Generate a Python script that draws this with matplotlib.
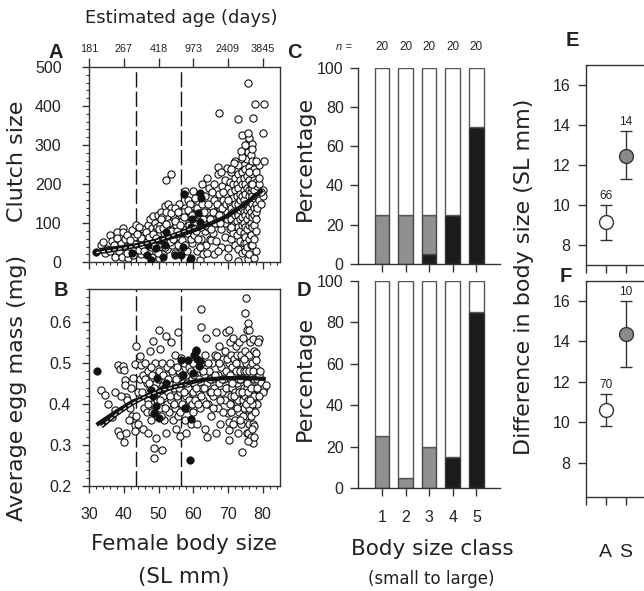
import matplotlib
matplotlib.use("Agg")
import matplotlib.pyplot as plt
import numpy as np

plt.rcParams['font.family'] = ['Liberation Sans', 'DejaVu Sans']
TXT = '#222222'
SP = '#333333'
LABFONT = ['DejaVu Sans']

# ---------------- data ----------------
age_ticks_sl = [30, 40, 50, 60, 70, 80]
age_labels = ['181', '267', '418', '973', '2409', '3845']
cut_lines = [43.5, 56.5]

clutch_open = [
    (33.5,44),(34.5,23),(35,35),(35.9,70),(36.5,55),(37.4,14),(37.9,78),(38.5,30),(39,50),(39.8,89),
    (39.8,78),(39.5,14),(40.5,40),(40.2,60),(38,62),(36,28),(34,52),(37,45),
    (41.2,12),(41.5,30),(42.2,83),(42,50),(43,65),(43.6,95),(43.5,25),(44,40),(44.5,75),(45,55),
    (45.5,85),(45,20),(46,35),(46.5,60),(46.8,95),(47,75),(47.5,110),(47.5,45),(48,15),(48,88),
    (48.5,118),(48.6,65),(49,30),(49,100),(49.3,82),(49.5,55),(49.8,120),(50,70),(50,40),(50,10),
    (41,70),(42.8,35),(44.2,90),(45.8,70),(46.2,45),(47.2,30),(48.2,50),(49.6,90),(44.8,62),(43.2,48),
    (50.5,95),(50.8,130),(51,60),(51.2,20),(51.5,105),(51.8,145),(52,80),(52.2,210),(52.3,35),(52.5,115),
    (52.8,150),(53,65),(53.3,90),(53.5,227),(53.5,140),(53.8,45),(54,120),(54.2,100),(54.5,75),(54.8,25),
    (55,135),(55.2,60),(55.5,110),(55.8,90),(56,150),(56.2,40),(56.5,120),(56.8,75),(57,100),(57.2,55),
    (57.5,182),(57.5,140),(57.8,85),(58,115),(58.3,30),(58.5,160),(58.8,70),(59,130),(59.2,105),(59.5,50),
    (59.9,183),(59.8,90),(60,145),(51,115),(52,130),(53,100),(54,85),(55,95),(56,65),(57,130),
    (58,100),(59,150),(60,120),(50.6,50),(51.6,75),(52.6,55),(53.6,125),(54.6,140),(55.6,45),(56.6,105),
    (57.6,60),(58.6,135),(59.6,75),
    (40.8,25),(41.8,58),(42.5,18),(43.8,72),(44.3,32),(45.2,45),(45.7,28),(46.3,78),(46.7,52),(47.3,64),
    (47.8,38),(48.3,72),(48.8,42),(49.2,62),(49.7,25),(50.2,85),(50.7,110),(51.3,88),(51.7,40),(52.2,98),
    (52.7,70),(53.2,52),(53.7,80),(54.2,60),(54.7,105),(55.2,80),(55.7,128),(56.2,95),(56.7,58),(57.2,115),
    (57.7,45),(58.2,75),(58.7,95),(59.2,60),(59.7,120),
    (60.3,70),(60.5,165),(60.8,110),(61,30),(61.2,140),(61.5,95),(61.8,5),(62,125),(62.3,60),(62.5,150),
    (62.8,20),(63,105),(63.3,80),(63.5,170),(63.8,45),(64,130),(64.3,90),(64.5,190),(64.8,60),(65,57),
    (65,145),(65.3,110),(65.5,180),(65.8,75),(66,160),(66.3,130),(66.5,55),(66.8,100),(67,244),(67.2,227),
    (67.5,381),(67.5,175),(67.8,140),(68,85),(68.2,195),(68.5,160),(68.8,120),(69,210),(69.2,100),(69.5,175),
    (69.7,242),(69.8,130),(70,190),(70.1,36),(70,14),(68,40),(66,20),(64,25),(62,40),(69,65),(67,30),
    (60.2,100),(60.7,80),(61.3,60),(61.7,120),(62.2,90),(62.7,110),(63.2,130),(63.7,95),(64.2,150),(64.7,110),
    (65.2,85),(65.7,130),(66.2,100),(66.7,150),(67.3,120),(67.7,100),(68.3,140),(68.7,180),(69.3,150),
    (69.7,110),(62.5,200),(64,215),(66,200),(68,230),
    (70.5,85),(70.5,150),(70.5,205),(70.5,120),(71,60),(71,180),(71,230),(71,110),(71,140),
    (71.5,95),(71.5,165),(71.5,200),(71.5,130),(71.5,75),(72,45),(72,120),(72,185),(72,215),(72,150),(72,100),
    (72.5,70),(72.5,170),(72.5,240),(72.5,130),(72.5,105),(72.5,200),(72.8,368),(72.8,3),
    (73,35),(73,90),(73,150),(73,190),(73,225),(73,120),(73.5,55),(73.5,110),(73.5,175),(73.5,210),
    (73.5,160),(73.5,135),(73.5,80),(74,327),(74,25),(74,95),(74,140),(74,200),(74,230),(74,170),(74,115),
    (74.5,50),(74.5,130),(74.5,185),(74.5,250),(74.5,160),(74.5,100),(74.5,75),(74.5,215),
    (75,65),(75,120),(75,200),(75,280),(75,240),(75,150),(75,175),(75,90),(75,30),(75.2,50),
    (75.5,40),(75.5,110),(75.5,150),(75.5,220),(75.5,265),(75.5,300),(75.5,190),(75.5,135),(75.5,85),
    (75.7,459),(75.7,283),(75.7,8),(76,20),(76,95),(76,170),(76,210),(76,245),(76,310),(76,140),(76,60),
    (76,120),(76,185),(76.2,317),(76.5,70),(76.5,130),(76.5,200),(76.5,235),(76.5,275),(76.5,160),
    (76.5,100),(76.5,45),(76.5,180),(76.5,300),(77,44),(77,90),(77,150),(77,190),(77,225),(77,260),
    (77,115),(77,170),(77,304),(77.1,370),(77.5,10),(77.5,60),(77.5,120),(77.5,165),(77.5,210),(77.5,240),
    (77.5,140),(77.5,95),(77.5,185),(77.9,406),(78,30),(78,80),(78,130),(78,170),(78,205),(78,150),(78,110),
    (78.5,140),(78.5,170),(78.5,195),(79,160),(79,200),(79,250),(80,332),(80,185),(80,170),
    (80.3,406),(80.3,259),(79.5,180),(79.5,150),
    (70,160),(71,90),(72,260),(73,250),(74,270),(76,230),(77,200),(78,230),(78,260),(79,215),
    (76.8,290),(75.8,330),(74.8,300),(73.8,285),(71.8,255),(70.8,240),
]
clutch_filled = [
    (31.9,26),(42.2,23),(46.5,19),(47.9,6),(49.3,36),(51.3,13),(51.7,44),(52.2,78),(50.5,57),(54.6,19),
    (56.5,19),(57,40),(58.9,6),(59.4,12),(57.3,174),(61.8,178),(62.1,164),(61.3,125),(59.6,110),(59.4,91),
    (61.8,104),(47,44),
]
clutch_fit_x = [33, 42.6, 50.3, 56.5, 61.8, 69.5, 75.2, 80]
clutch_fit_y = [31.5, 42, 57, 70, 87, 117, 151, 185]
clutch_fit2_x = [32, 36, 40, 44, 48, 52, 56, 61]
clutch_fit2_y = [25, 30, 36, 43, 52, 62, 75, 92]

egg_open = [
    (33.5,0.433),(34.5,0.422),(35.5,0.400),(36.5,0.368),(37.4,0.430),(38.3,0.496),(38.8,0.484),(39.8,0.492),
    (39.9,0.483),(40.2,0.459),(40.2,0.447),(40.5,0.418),(38.3,0.333),(38.8,0.325),(39.9,0.306),(40.7,0.330),
    (41.7,0.390),(42.2,0.370),(42.6,0.463),(43.1,0.498),(43.4,0.540),(43.1,0.349),(43.1,0.333),(43.6,0.370),
    (44.6,0.516),(45.0,0.496),(37.5,0.385),(39,0.42),(41,0.41),(42,0.44),(44,0.43),(44.5,0.46),(41.5,0.36),
    (44,0.35),(45.5,0.34),(45.8,0.39),
    (45.5,0.47),(46,0.42),(46,0.50),(46.5,0.45),(46.5,0.38),(47,0.48),(47,0.41),(47.4,0.53),(47.5,0.44),
    (47.8,0.36),(48,0.47),(48,0.40),(48.4,0.553),(48.6,0.292),(48.6,0.269),(48.5,0.43),(49,0.50),(49.2,0.316),
    (49.2,0.45),(49.5,0.41),(49.5,0.37),(50,0.579),(50,0.48),(50,0.43),(50.5,0.534),(50.5,0.39),(50.8,0.46),
    (51,0.288),(51,0.50),(51.2,0.42),(51.5,0.44),(51.5,0.36),(52,0.47),(52.2,0.565),(52.3,0.40),(52.5,0.49),
    (52.8,0.43),(53,0.38),(53,0.45),(53.4,0.50),(53.6,0.41),(54,0.47),(54,0.36),(54.3,0.44),(54.6,0.52),
    (54.8,0.39),(55,0.46),(55.3,0.42),(55.6,0.575),(55.6,0.37),(56,0.48),(56.1,0.323),(56.3,0.43),(56.5,0.512),
    (56.8,0.40),(57,0.45),(57.3,0.50),(57.5,0.36),(57.8,0.42),(58,0.47),(58.3,0.39),(58.5,0.44),(58.8,0.49),
    (59,0.41),(59.2,0.35),(59.5,0.46),(59.8,0.43),(60,0.38),(60,0.50),(46.8,0.33),(52,0.33),(55,0.34),
    (58,0.33),(53.5,0.55),
    (45.2,0.43),(46.2,0.46),(46.8,0.40),(47.2,0.45),(47.7,0.49),(48.2,0.38),(48.8,0.44),(49.8,0.46),(50.3,0.41),
    (50.7,0.37),(51.3,0.47),(51.8,0.39),(52.7,0.46),(53.2,0.42),(53.8,0.48),(54.4,0.40),(55.2,0.49),(55.8,0.44),
    (56.2,0.38),(56.7,0.47),(57.2,0.43),(57.7,0.39),(58.2,0.45),(58.7,0.41),(59.3,0.48),(59.7,0.40),
    (60.3,0.45),(60.5,0.41),(60.8,0.53),(61,0.35),(61.2,0.47),(61.5,0.43),(61.8,0.39),(62.1,0.632),(62.1,0.588),
    (62.3,0.50),(62.5,0.44),(62.8,0.41),(63,0.47),(63.3,0.34),(63.5,0.52),(63.7,0.561),(64,0.45),(64.3,0.40),
    (64.5,0.48),(64.8,0.43),(65,0.37),(65.3,0.50),(65.5,0.46),(65.8,0.42),(66,0.44),(66.3,0.52),(66.6,0.575),
    (66.9,0.516),(67,0.47),(67.2,0.39),(67.5,0.54),(67.5,0.45),(67.8,0.35),(68,0.49),(68.3,0.43),(68.5,0.51),
    (68.8,0.46),(69,0.41),(69.2,0.53),(69.5,0.575),(69.5,0.48),(69.9,0.378),(69.8,0.44),(70.2,0.312),
    (70.2,0.337),(70.2,0.357),(70.4,0.581),(70.3,0.50),(64,0.32),(66.5,0.33),
    (60.2,0.47),(60.7,0.44),(61.3,0.40),(61.7,0.46),(62.2,0.42),(62.7,0.48),(63.2,0.44),(63.8,0.40),(64.2,0.50),
    (64.7,0.46),(65.2,0.43),(65.7,0.39),(66.2,0.47),(66.8,0.43),(67.3,0.50),(67.7,0.41),(68.2,0.46),(68.7,0.38),
    (69.3,0.44),(69.7,0.51),
    (70.6,0.55),(70.8,0.46),(70.8,0.42),(71,0.52),(71,0.38),(71.2,0.49),(71.3,0.44),(71.5,0.56),(71.5,0.40),
    (71.7,0.47),(71.8,0.51),(72,0.43),(72,0.36),(72.2,0.54),(72.3,0.48),(72.5,0.404),(72.5,0.45),(72.7,0.52),
    (72.8,0.329),(72.9,0.41),(73,0.50),(73,0.46),(73.2,0.55),(73.3,0.38),(73.5,0.48),(73.5,0.43),(73.7,0.52),
    (73.8,0.35),(74,0.284),(74,0.46),(74,0.50),(74.2,0.41),(74.3,0.56),(74.5,0.44),(74.5,0.39),(74.7,0.48),
    (74.8,0.53),(75,0.622),(75,0.42),(75,0.46),(75.2,0.659),(75.2,0.37),(75.3,0.50),(75.4,0.58),(75.5,0.44),
    (75.5,0.33),(75.7,0.598),(75.7,0.33),(75.7,0.41),(75.8,0.47),(76,0.581),(76,0.52),(76,0.39),(76,0.35),
    (76.2,0.45),(76.3,0.49),(76.4,0.55),(76.5,0.42),(76.6,0.32),(76.7,0.37),(76.8,0.47),(77,0.50),(77,0.43),
    (77.1,0.557),(77.1,0.304),(77.2,0.40),(77.3,0.35),(77.4,0.46),(77.5,0.53),(77.6,0.345),(77.7,0.38),
    (77.8,0.44),(78.1,0.524),(78.1,0.508),(78.1,0.488),(78,0.42),(78.3,0.46),(78.5,0.40),(78.8,0.47),
    (79,0.557),(79,0.44),(79.5,0.45),(80.5,0.439),(81,0.447),(80.2,0.43),(78.6,0.55),
    (70.5,0.47),(70.7,0.40),(71.2,0.45),(71.7,0.42),(72.2,0.50),(72.6,0.39),(73.1,0.43),(73.6,0.46),(74.1,0.43),
    (74.6,0.51),(75.1,0.48),(75.6,0.45),(75.9,0.43),(76.1,0.48),(76.6,0.44),(76.9,0.40),(77.3,0.48),(77.6,0.42),
    (78.4,0.44),(78.8,0.42),(79.2,0.48),(75.3,0.40),(76.3,0.41),(74.4,0.37),(73.4,0.36),(71.4,0.35),(76.8,0.34),
    (75.9,0.31),(77.4,0.32),
]
egg_filled = [
    (32.1,0.481),(49.5,0.463),(49.3,0.394),(48.6,0.378),(50.1,0.365),(52.2,0.452),(50.8,0.435),(51.5,0.44),
    (47.9,0.435),(48.5,0.42),(56.5,0.508),(57,0.471),(57.5,0.39),(58.4,0.508),(59.4,0.364),(58.9,0.264),
    (60.1,0.52),(60.8,0.532),(61.8,0.504),(61.6,0.492),(59.9,0.475),(61,0.51),
]
egg_fit_x = [32.1, 37.9, 42.6, 50.3, 56.5, 62.8, 69.5, 75.2, 80.9]
egg_fit_y = [0.349, 0.382, 0.406, 0.430, 0.447, 0.459, 0.463, 0.463, 0.461]
egg_fit2_x = [33.5, 38, 42, 46, 50, 54, 58]
egg_fit2_y = [0.345, 0.376, 0.399, 0.417, 0.431, 0.440, 0.447]

classes = [1, 2, 3, 4, 5]
n_labels = ['20', '20', '20', '20', '20']
C_black = [0, 0, 5, 25, 70]
C_gray = [25, 25, 20, 0, 0]
D_black = [0, 0, 0, 15, 85]
D_gray = [25, 5, 20, 0, 0]

groups = ['A', 'S']
E_mean = [9.13, 12.47]
E_lo = [8.27, 11.28]
E_hi = [10.0, 13.7]
E_n = ['66', '14']
F_mean = [10.6, 14.36]
F_lo = [9.8, 12.75]
F_hi = [11.38, 16.0]
F_n = ['70', '10']

# ---------------- figure ----------------
W, H = 644, 591
fig = plt.figure(figsize=(W / 100, H / 100), dpi=100)


def box(l, t, r, b):
    return [l / W, 1 - b / H, (r - l) / W, (b - t) / H]


def ftext(x, y, s, **kw):
    kw.setdefault('color', TXT)
    fig.text(x / W, 1 - y / H, s, ha=kw.pop('ha', 'center'), va=kw.pop('va', 'center'), **kw)


def style_spines(ax, sides):
    for k, sp in ax.spines.items():
        sp.set_visible(k in sides)
        sp.set_color(SP)
        sp.set_linewidth(1.0)


def scatter_panel(ax, openpts, filledpts, fx, fy, f2x, f2y):
    ox, oy = zip(*openpts)
    bx, by = zip(*filledpts)
    for c in cut_lines:
        ax.axvline(c, color='#111111', lw=1.0, dashes=(11, 3), zorder=1)
    ax.scatter(ox, oy, s=27, facecolor='white', edgecolor='#111111', linewidth=0.8, zorder=2)
    ax.scatter(bx, by, s=28, facecolor='#111111', edgecolor='#111111', linewidth=0.6, zorder=3)
    ax.plot(fx, fy, color='#111111', lw=3.0, zorder=4, solid_capstyle='butt')
    ax.plot(f2x, f2y, color='#111111', lw=3.0, zorder=4, solid_capstyle='butt')
    ax.plot(f2x, f2y, color='white', lw=0.8, dashes=(3, 2), zorder=5)
    ax.set_xlim(30, 85)
    ax.set_xticks(age_ticks_sl)
    ax.set_xticks(np.arange(30, 85, 2), minor=True)
    style_spines(ax, ['left', 'right', 'top', 'bottom'])
    ax.tick_params(which='major', direction='out', length=5, width=1, color=SP, labelsize=11.5, labelcolor=TXT)
    ax.tick_params(which='minor', direction='out', length=2.5, width=0.8, color=SP)
    ax.tick_params(axis='y', which='both', right=False)
    ax.tick_params(axis='x', which='both', top=False)


# Panel A
axA = fig.add_axes(box(89.3, 67, 280, 262.3))
scatter_panel(axA, clutch_open, clutch_filled, clutch_fit_x, clutch_fit_y, clutch_fit2_x, clutch_fit2_y)
axA.set_ylim(0, 500)
axA.set_yticks([0, 100, 200, 300, 400, 500])
axA.set_yticks(np.arange(0, 501, 20), minor=True)
axA.set_xticklabels([])
axA.tick_params(axis='y', pad=15)
secA = axA.secondary_xaxis('top')
secA.set_xticks(age_ticks_sl)
secA.set_xticklabels(age_labels)
secA.tick_params(direction='out', length=6.5, width=1, color=SP, labelsize=7.8, labelcolor=TXT, pad=3)
secA.spines['top'].set_visible(False)

# Panel B
axB = fig.add_axes(box(89.3, 289, 280, 486))
scatter_panel(axB, egg_open, egg_filled, egg_fit_x, egg_fit_y, egg_fit2_x, egg_fit2_y)
axB.set_ylim(0.2, 0.68)
axB.set_yticks([0.2, 0.3, 0.4, 0.5, 0.6])
axB.set_yticklabels(['0.2', '0.3', '0.4', '0.5', '0.6'])
axB.set_yticks(np.arange(0.2, 0.681, 0.02), minor=True)
axB.tick_params(axis='y', pad=8)
axB.tick_params(axis='x', pad=10)


def bar_panel(ax, black, gray, labels):
    white = [100 - b - g for b, g in zip(black, gray)]
    gbot = list(black)
    wbot = [b + g for b, g in zip(black, gray)]
    kw = dict(width=0.62, linewidth=1.0, zorder=2)
    ax.bar(classes, black, color='#1c1c1c', edgecolor='#333333', **kw)
    ax.bar(classes, gray, bottom=gbot, color='#909090', edgecolor='#444444', **kw)
    ax.bar(classes, white, bottom=wbot, color='white', edgecolor='#555555', **kw)
    ax.set_xlim(0, 6)
    ax.set_ylim(0, 100)
    ax.set_yticks([0, 20, 40, 60, 80, 100])
    ax.set_xticks(classes)
    style_spines(ax, ['left', 'bottom'])
    ax.tick_params(direction='out', length=5.5, width=1, color=SP, labelsize=11.5, labelcolor=TXT)
    ax.tick_params(axis='y', pad=5)
    ax.tick_params(axis='x', pad=10)
    if not labels:
        ax.set_xticklabels([])


axC = fig.add_axes(box(358.3, 67.7, 500, 264))
bar_panel(axC, C_black, C_gray, False)
axD = fig.add_axes(box(358.3, 280.7, 500, 488.3))
bar_panel(axD, D_black, D_gray, True)


def err_panel(ax, mean, lo, hi, nl, labels, ylim):
    xs = [1, 2]
    cols = ['white', '#8a8a8a']
    for x, m, l, h, c, n in zip(xs, mean, lo, hi, cols, nl):
        ax.errorbar([x], [m], yerr=[[m - l], [h - m]], fmt='none', ecolor='#333333',
                    elinewidth=1.0, capsize=4, capthick=1.0, zorder=2)
        ax.plot([x], [m], 'o', ms=10, mfc=c, mec='#333333', mew=1.0, zorder=3)
        ax.text(x, h + 0.45, n, ha='center', va='center', fontsize=8.5, color=TXT)
    ax.set_xlim(0, 5)
    ax.set_ylim(*ylim)
    ax.set_yticks([8, 10, 12, 14, 16])
    ax.set_xticks([0, 1, 2, 3, 4])
    style_spines(ax, ['left', 'top', 'bottom', 'right'])
    ax.tick_params(direction='out', length=6, width=1, color=SP, labelsize=11.5, labelcolor=TXT)
    ax.tick_params(axis='y', pad=5)
    if labels:
        ax.set_xticklabels([''] + groups + ['', ''], fontsize=14)
        ax.tick_params(axis='x', pad=28)
    else:
        ax.set_xticklabels([])


axE = fig.add_axes(box(585.7, 65, 685.7, 265))
err_panel(axE, E_mean, E_lo, E_hi, E_n, False, (7, 17))
axF = fig.add_axes(box(585.7, 280.7, 685.7, 497))
err_panel(axF, F_mean, F_lo, F_hi, F_n, True, (6.3, 17))

# ---------------- texts ----------------
ftext(181, 18, 'Estimated age (days)', fontsize=13, family=LABFONT)
ftext(55.5, 52, 'A', fontsize=14.5, fontweight='bold')
ftext(60.5, 290.5, 'B', fontsize=14.5, fontweight='bold')
ftext(294, 53, 'C', fontsize=14.5, fontweight='bold')
ftext(303.5, 290, 'D', fontsize=14.5, fontweight='bold')
ftext(572, 41, 'E', fontsize=14.5, fontweight='bold')
ftext(566, 277, 'F', fontsize=14.5, fontweight='bold')
ftext(17, 161, 'Clutch size', fontsize=16, rotation=90, family=LABFONT)
ftext(17, 388, 'Average egg mass (mg)', fontsize=16, rotation=90, family=LABFONT)
ftext(184, 544, 'Female body size', fontsize=15.5, family=LABFONT)
ftext(184, 577, '(SL mm)', fontsize=15.5, family=LABFONT)
ftext(305, 158, 'Percentage', fontsize=16, rotation=90, family=LABFONT)
ftext(305, 378, 'Percentage', fontsize=16, rotation=90, family=LABFONT)
ftext(432, 549, 'Body size class', fontsize=15.5, family=LABFONT)
ftext(431, 579, '(small to large)', fontsize=12, family=LABFONT)
ftext(524, 277, 'Difference in body size (SL mm)', fontsize=16, rotation=90, family=LABFONT)
ftext(344, 47, 'n =', fontsize=8, style='italic')
for c, n in zip(classes, n_labels):
    x_px = axC.transData.transform((c, 0))[0]
    fig.text(x_px / W, 1 - 47 / H, n, ha='center', va='center', fontsize=8.5, color=TXT)

fig.savefig('out.png', dpi=100)
